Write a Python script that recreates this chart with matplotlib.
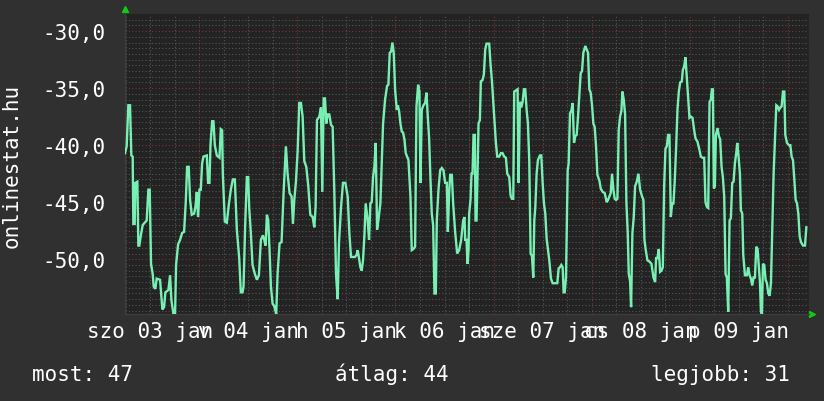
import matplotlib.pyplot as plt
from matplotlib.transforms import blended_transform_factory

# hours since 2015-01-03 00:00, rank shown as negative
hours = [
    5.8, 6.21, 6.62, 7.03, 7.35, 7.68, 7.84, 8.17, 8.33, 8.82, 9.07, 9.31, 9.64, 10.13,
    11.11, 11.52, 11.85, 12.17, 12.58, 12.83, 13.23, 13.56, 14.38, 14.71, 14.95, 15.36,
    15.69, 16.42, 16.83, 17.16, 17.65, 18.05, 18.3, 18.79, 19.28, 19.77, 20.26, 20.67,
    21.0, 21.4, 21.73, 22.14, 22.71, 23.04, 23.37, 23.69, 24.02, 24.35, 24.67, 25.0,
    25.82, 26.14, 26.47, 26.72, 27.12, 27.45, 27.78, 28.27, 28.92, 29.25, 29.57, 29.74,
    30.23, 30.72, 31.21, 31.7, 32.19, 32.68, 33.17,
    33.75, 34.15, 34.56, 34.81, 35.22, 35.62, 35.95, 36.2, 36.6, 37.01, 37.59, 38.08,
    38.57, 39.06, 39.55, 39.87, 40.2, 40.53, 40.85, 41.18, 41.51, 41.92, 42.32, 42.81,
    43.14, 43.63, 44.12, 44.61, 45.18, 45.59, 46.08, 46.57, 46.9, 47.23, 47.63, 48.04,
    48.45, 48.86, 49.27, 49.68, 50.17, 50.66, 51.15, 51.72, 52.13, 52.45, 52.78, 53.35,
    53.76, 54.09, 54.42, 54.74, 55.07, 55.4, 55.8, 56.21, 56.62, 57.03, 57.44, 57.85,
    58.17, 58.66, 59.15, 59.73, 60.3, 60.71, 61.11,
    62.09, 62.5, 62.75, 63.07, 63.4, 63.73, 64.05, 64.38, 64.71, 65.2, 65.53, 65.85,
    66.18, 66.51, 66.83, 67.16, 67.49, 67.81, 68.3, 68.63, 68.96, 69.45, 69.94, 70.26,
    70.59, 70.92, 71.24, 71.57, 71.9, 72.31, 72.55, 72.88, 73.21, 73.53, 73.86, 74.19,
    74.51, 74.84, 75.17, 75.66, 75.98, 76.39, 76.8, 77.13, 77.54, 77.86, 78.11, 78.43,
    78.84, 79.25, 79.58, 79.9, 80.23, 80.56, 80.88, 81.21, 81.54, 81.87, 82.11, 82.52,
    82.93, 83.34, 83.74, 84.15, 84.56, 84.81, 85.13, 85.38, 85.79, 86.11, 86.6, 87.09,
    87.58, 88.07, 88.56, 88.89,
    89.05, 89.38, 89.63, 89.87, 90.03, 90.36, 90.61, 90.85, 91.1, 91.42, 91.59, 91.83,
    92.08, 92.32, 92.65, 92.89, 93.3, 93.63, 93.96, 94.28, 94.94, 95.26, 95.59, 96.0,
    96.24, 96.57, 96.9, 97.39, 97.8, 98.2, 98.61, 99.02, 99.35, 99.84, 100.16, 100.49,
    100.82, 101.06, 101.47, 101.88, 102.13, 102.45, 102.78, 103.11, 103.43, 103.76,
    104.09, 104.41, 104.74, 105.07, 105.39, 105.72, 105.97, 106.21, 106.54, 106.86,
    107.35, 107.68, 108.01, 108.33, 108.66, 108.99, 109.32, 109.64, 110.05, 110.46,
    111.11, 111.6, 111.93, 112.26, 112.58, 112.91, 113.15, 113.4, 113.73, 114.14,
    114.38, 114.71, 115.03, 115.36, 115.69, 116.01, 116.34, 116.67, 116.99,
    117.32, 117.65, 117.97, 118.46, 118.79, 119.12, 119.44, 119.77, 120.1, 120.42,
    120.75, 121.08, 121.41, 121.9, 122.22, 122.71, 123.2, 123.69, 124.02, 124.35,
    124.67, 125.0, 125.33, 125.65, 125.98, 126.31, 126.63, 126.96, 127.29, 127.53,
    127.86, 128.19, 128.51, 128.84, 129.09, 129.41, 129.66, 129.98, 130.31, 130.64,
    131.05, 131.45, 131.86, 132.35, 132.68, 132.93, 133.25, 133.66, 134.15, 134.64,
    135.13, 135.54, 135.78, 136.11, 136.44, 136.76, 137.09, 137.42, 137.75, 138.07,
    138.4, 138.73, 139.05, 139.38, 139.71, 140.03, 140.36, 140.69, 141.01, 141.34,
    141.67, 142.08, 142.32, 142.65, 142.97, 143.3, 143.63, 143.95,
    144.28, 144.69, 145.1, 145.42, 145.91, 146.32, 146.73, 147.14, 147.55, 147.87,
    148.2, 148.53, 148.86, 149.18, 149.43, 149.67, 149.92, 150.16, 150.41, 150.82,
    151.14, 151.47, 151.8, 152.12, 152.45, 152.78, 153.1, 153.43, 153.76, 154.08,
    154.41, 154.74, 155.06, 155.39, 155.64, 155.96, 156.29, 156.53, 156.86, 157.11,
    157.52, 158.01, 158.33, 158.66, 158.99, 159.31, 159.64, 159.97, 160.29, 160.62,
    160.95, 161.19, 161.44, 161.68, 161.93, 162.25, 162.58, 162.91, 163.23, 163.56,
    163.89, 164.22, 164.54, 164.87, 165.2, 165.52, 165.85, 166.18, 166.5, 166.83,
    167.16, 167.4, 167.81, 168.3, 168.63, 168.95, 169.28, 169.61, 169.93, 170.26,
    170.59, 170.92, 171.24, 171.73, 172.22, 172.55,
]
rank = [
    -40.7, -40.1, -36.5, -36.5, -40.9, -41.0, -46.9, -46.9, -43.3, -43.2, -48.8, -48.8, -48.0, -47.0,
    -46.6, -43.9, -43.9, -50.4, -51.3, -52.4, -52.6, -51.7, -51.8, -53.3, -54.4, -54.2,
    -52.9, -52.7, -51.4, -53.6, -54.8, -54.8, -50.5, -48.7, -48.3, -47.7, -47.6, -45.0,
    -41.9, -41.9, -44.8, -46.1, -46.0, -45.4, -44.1, -46.3, -43.9, -43.9, -41.6, -41.0,
    -40.9, -43.3, -43.3, -40.0, -37.9, -37.9, -40.0, -40.9, -41.1, -38.6, -38.7, -42.5,
    -46.7, -46.8, -45.2, -43.9, -43.0, -43.0, -47.4,
    -49.9, -52.9, -52.9, -52.4, -46.9, -42.8, -42.8, -45.5, -47.7, -50.5, -51.3, -51.8,
    -51.4, -48.3, -47.9, -48.3, -48.8, -46.1, -46.6, -49.2, -52.4, -53.9, -54.1, -54.8,
    -51.3, -48.6, -48.5, -44.2, -40.1, -42.5, -44.2, -44.5, -46.9, -44.8, -43.2, -40.6,
    -36.3, -36.3, -37.5, -41.4, -41.9, -43.6, -46.1, -46.3, -47.2, -45.4, -37.8, -37.5,
    -36.7, -44.1, -35.9, -35.9, -38.1, -37.3, -37.3, -38.2, -38.4, -44.1, -51.3, -53.5,
    -48.6, -45.5, -43.3, -43.3, -44.5, -47.7, -49.8,
    -49.8, -49.6, -49.2, -49.9, -50.7, -51.0, -50.1, -48.0, -45.1, -46.6, -48.3, -45.1,
    -45.0, -42.8, -41.9, -39.8, -47.4, -46.6, -45.1, -41.6, -38.1, -36.0, -34.8, -34.7,
    -31.9, -31.8, -31.0, -31.9, -35.1, -36.9, -36.5, -37.0, -38.1, -38.8, -38.9, -39.5,
    -40.7, -41.0, -41.3, -44.5, -49.2, -49.1, -48.9, -36.6, -34.7, -35.3, -43.3, -36.9,
    -36.5, -36.3, -35.4, -37.5, -39.4, -43.0, -46.0, -47.0, -53.0, -53.0, -46.6, -43.9,
    -42.2, -42.0, -42.2, -43.3, -43.3, -47.6, -44.2, -42.6, -42.6, -45.1, -47.6, -49.5,
    -49.2, -48.3, -46.6, -46.3,
    -48.3, -48.3, -50.4, -49.2, -46.0, -44.8, -42.5, -42.5, -39.1, -39.1, -46.6, -46.6,
    -42.5, -38.1, -37.8, -34.4, -34.3, -33.8, -31.6, -31.1, -31.1, -32.9, -34.3, -36.6,
    -37.8, -39.8, -41.0, -41.0, -40.7, -40.7, -41.0, -41.1, -42.5, -42.8, -44.4, -44.7,
    -44.7, -35.3, -35.2, -35.1, -43.3, -36.2, -36.7, -36.2, -35.1, -35.1,
    -36.9, -38.1, -41.4, -49.5, -49.7, -51.6, -46.6, -45.5, -42.5, -41.3,
    -40.9, -40.9, -43.3, -45.1, -46.0, -48.2, -49.2, -50.1, -51.7, -52.1,
    -52.1, -52.1, -50.8, -50.7, -50.5, -50.7, -52.9, -52.9, -51.6, -42.2,
    -41.6, -37.2, -37.0, -36.3, -39.8, -39.2, -39.1, -37.5, -35.7,
    -33.7, -33.5, -31.9, -31.3, -31.6, -31.9, -35.1, -35.4, -36.5, -38.1,
    -38.4, -40.1, -42.6, -43.1, -43.8, -44.1, -44.2, -45.0, -44.8, -44.5,
    -44.2, -42.5, -43.9, -44.7, -44.8, -44.7, -38.7, -37.5, -37.0, -35.3,
    -36.0, -37.3, -45.0, -47.7, -51.3, -51.9, -54.2, -47.7, -46.3, -43.6,
    -43.2, -42.5, -43.9, -44.5, -44.8, -48.3, -49.2, -50.1, -50.2, -50.4,
    -51.6, -52.0, -49.9, -49.9, -49.1, -51.1, -51.0, -50.7, -43.6, -40.3,
    -40.1, -39.1, -39.1, -46.3, -45.1, -45.1, -43.0, -40.1, -36.9, -35.3,
    -34.5, -34.4, -33.4, -33.1, -32.3, -34.1, -36.0, -37.6,
    -37.5, -37.6, -38.7, -39.4, -39.7, -40.3, -41.0, -41.1, -41.1, -45.0,
    -45.4, -45.5, -36.2, -36.0, -35.1, -35.1, -43.8, -43.6, -39.1, -38.5,
    -39.2, -39.5, -41.9, -42.8, -44.5, -51.3, -51.6, -54.6, -46.6, -46.4,
    -43.3, -43.2, -41.6, -40.7, -39.8, -41.0, -42.5, -45.7, -46.0, -49.6,
    -51.4, -51.4, -50.7, -51.4, -51.7, -52.3, -51.6, -51.6, -48.9, -49.1,
    -50.8, -52.0, -54.6, -54.8, -50.4, -50.5, -51.8, -52.1, -53.0, -53.2,
    -52.1, -47.4, -42.5, -39.4, -36.5, -36.6, -36.9, -36.7, -36.6, -35.3,
    -35.3, -39.1, -39.8, -40.0, -40.0, -41.0, -41.3, -43.0, -44.8, -45.1,
    -46.0, -48.0, -48.5, -48.8, -48.8, -47.2,
]

day_labels = ['szo 03 jan', 'v 04 jan', 'h 05 jan', 'k 06 jan',
              'sze 07 jan', 'cs 08 jan', 'p 09 jan']
y_major = [-50, -45, -40, -35, -30]
legend_items = ['most: 47', 'átlag: 44', 'legjobb: 31']

t_start, t_end = 5.8, 173.2
y_min, y_max = -54.8, -28.5

BG = '#303030'
PLOT_BG = '#232323'
LINE = '#78f0b4'
MINOR = '#555555'
MAJOR = '#7a3434'
FONT = 'DejaVu Sans Mono'
FS = 15

fig = plt.figure(figsize=(8.24, 4.02), dpi=100, facecolor=BG)
ax = fig.add_axes([125 / 824, 1 - 315 / 402, 684 / 824, 300 / 402])
ax.set_facecolor(PLOT_BG)

ax.plot(hours, rank, color=LINE, lw=1.7, solid_joinstyle='miter', zorder=3)
ax.set_xlim(t_start, t_end)
ax.set_ylim(y_min, y_max)

# grid: midnight = major (red), every 6h minor; y every 5 major, every 0.5 minor
ax.set_xticks([24 * d for d in range(1, 8)])
ax.set_xticks([6 * k for k in range(1, 29)], minor=True)
ax.set_yticks(y_major)
ax.set_yticks([-54.5 + 0.5 * k for k in range(52)], minor=True)
ax.grid(which='minor', color=MINOR, lw=0.8, linestyle=(0, (1, 2)), zorder=1)
ax.grid(which='major', color=MAJOR, lw=0.8, linestyle=(0, (1, 2)), zorder=2)
ax.set_axisbelow(True)

ax.set_yticklabels([f'{v:.1f}'.replace('.', ',') for v in y_major],
                   fontfamily=FONT, fontsize=FS, color='white')
ax.set_xticklabels([])
ax.tick_params(axis='both', which='both', length=0)
ax.tick_params(axis='y', pad=14)

for s in ['top', 'right']:
    ax.spines[s].set_visible(False)
for s in ['left', 'bottom']:
    ax.spines[s].set_color('#3c3c3c')
    ax.spines[s].set_linewidth(1)

trans = blended_transform_factory(ax.transData, ax.transAxes)
for i, lab in enumerate(day_labels):
    ax.text(12 + 24 * i, -0.022, lab, transform=trans, ha='center', va='top',
            fontfamily=FONT, fontsize=FS, color='white')

# small green arrows at the axis ends
ax.plot([0], [1.017], marker='^', color='#11cc11', ms=5, transform=ax.transAxes, clip_on=False)
ax.plot([1.004], [0], marker='>', color='#11cc11', ms=5, transform=ax.transAxes, clip_on=False)

fig.text(12 / 824, 1 - 166 / 402, 'onlinestat.hu', rotation=90, ha='center', va='center',
         fontfamily=FONT, fontsize=FS, color='white')

fig.text(32 / 824, 1 - 381 / 402, legend_items[0], ha='left', va='baseline',
         fontfamily=FONT, fontsize=FS, color='white')
fig.text(335 / 824, 1 - 381 / 402, legend_items[1], ha='left', va='baseline',
         fontfamily=FONT, fontsize=FS, color='white')
fig.text(790 / 824, 1 - 381 / 402, legend_items[2], ha='right', va='baseline',
         fontfamily=FONT, fontsize=FS, color='white')

fig.savefig('out.png', dpi=100, facecolor=BG)
